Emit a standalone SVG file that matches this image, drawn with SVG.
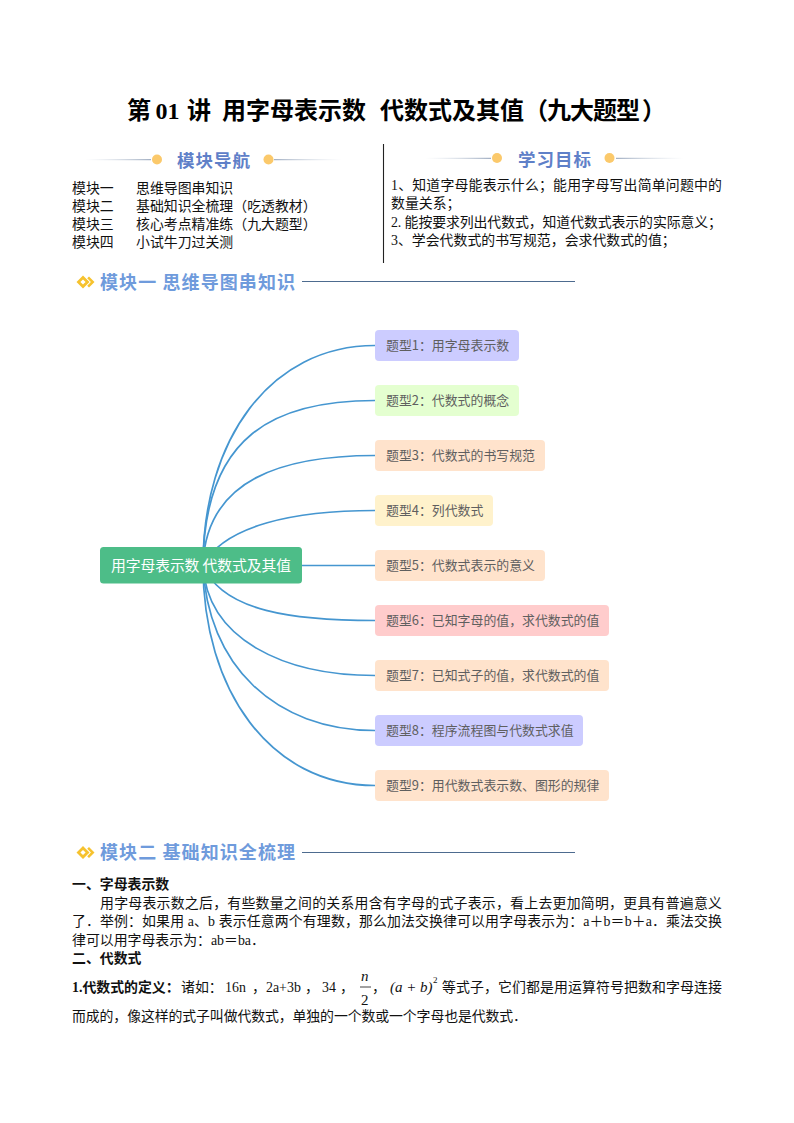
<svg xmlns="http://www.w3.org/2000/svg" width="794" height="1123" viewBox="0 0 794 1123">
<style>
text{font-family:"Liberation Serif","Noto Sans CJK SC",serif;fill:#111}
.title{font-size:24px;font-weight:700;fill:#000}
.h{font-family:"Noto Sans CJK SC",sans-serif;font-size:17.5px;font-weight:700;fill:#5f80c8}
.sec{font-family:"Noto Sans CJK SC",sans-serif;font-size:18px;font-weight:700;fill:#6f9bdc}
.b{font-size:13.9px}
.bb{font-size:13.9px;font-weight:700}
.lab{font-family:"Noto Sans CJK SC",sans-serif;font-size:12.9px;fill:#5f5f5f}
.root{font-family:"Noto Sans CJK SC",sans-serif;font-size:14.8px;fill:#fff}
.c{fill:none;stroke:#4596d0;stroke-width:1.7}
.dot{fill:#fbc96b}
.rule{stroke:#4d6b8f;stroke-width:1.1;fill:none}
.ic{fill:#f6c22e}
.m{font-family:"Liberation Serif",serif;font-style:italic;font-size:15px}
</style>
<defs>
<linearGradient id="gl" x1="0" x2="1" y1="0" y2="0"><stop offset="0" stop-color="#c5cfdc" stop-opacity="0"/><stop offset="1" stop-color="#8d9db5"/></linearGradient>
<linearGradient id="gr" x1="0" x2="1" y1="0" y2="0"><stop offset="0" stop-color="#8d9db5"/><stop offset="1" stop-color="#c5cfdc" stop-opacity="0"/></linearGradient>
<g id="icon"><path d="M0 -6.5L6.500 0L0 6.500L-6.500 0ZM0 -2.600L-2.600 0L0 2.600L2.600 0Z" class="ic" fill-rule="evenodd"/><path d="M6 -5.500L11.500 0L6 5.500L4.200 3.700L7.900 0L4.200 -3.700Z" class="ic"/></g>
</defs>

<g id="title"><text class="title" y="118.500"><tspan x="127">第</tspan><tspan x="155.500">01</tspan><tspan x="187">讲</tspan><tspan x="222">用字母表示数</tspan><tspan x="380">代数式及其值</tspan><tspan x="524">（</tspan><tspan x="547" textLength="93">九大题型</tspan><tspan x="642">）</tspan></text></g>

<g id="nav">
<rect x="85" y="159.200" width="66" height="1" fill="url(#gl)"/><rect x="274" y="159.200" width="68" height="1" fill="url(#gr)"/>
<circle class="dot" cx="157" cy="159.500" r="5"/><circle class="dot" cx="268.500" cy="159.500" r="5"/>
<text class="h" x="177" y="167" textLength="73">模块导航</text>
<text class="b" y="193"><tspan x="72">模块一</tspan><tspan x="136">思维导图串知识</tspan></text>
<text class="b" y="211"><tspan x="72">模块二</tspan><tspan x="136">基础知识全梳理（吃透教材）</tspan></text>
<text class="b" y="229"><tspan x="72">模块三</tspan><tspan x="136">核心考点精准练（九大题型）</tspan></text>
<text class="b" y="247"><tspan x="72">模块四</tspan><tspan x="136">小试牛刀过关测</tspan></text>
</g>
<path d="M383.500 144V263" stroke="#222" stroke-width="1.1"/>
<g id="goals">
<rect x="425" y="157.800" width="66" height="1" fill="url(#gl)"/><rect x="616" y="157.800" width="68" height="1" fill="url(#gr)"/>
<circle class="dot" cx="497" cy="158" r="5"/><circle class="dot" cx="609.500" cy="158" r="5"/>
<text class="h" x="518" y="165.500" textLength="73">学习目标</text>
<text class="b" x="391" y="190" textLength="331">1、知道字母能表示什么；能用字母写出简单问题中的</text>
<text class="b" x="391" y="208">数量关系；</text>
<text class="b" x="391" y="227" textLength="331">2. 能按要求列出代数式，知道代数式表示的实际意义；</text>
<text class="b" x="391" y="245">3、学会代数式的书写规范，会求代数式的值；</text>
</g>

<g id="section1"><use href="#icon" x="83" y="282"/><text class="sec" x="100" y="288.500" textLength="195">模块一 思维导图串知识</text><path class="rule" d="M302 281.500H575"/></g>

<g id="connectors">
<path class="c" d="M203 565C203 440 270 345.500 375 345.500"/>
<path class="c" d="M203 565C204 435 275 400.500 375 400.500"/>
<path class="c" d="M203 565C206 478 285 455.500 375 455.500"/>
<path class="c" d="M203 565C225 525 295 510.500 375 510.500"/>
<path class="c" d="M302 565.500H375"/>
<path class="c" d="M203 565C222 612 295 620.500 375 620.500"/>
<path class="c" d="M203 565C207 640 285 675.500 375 675.500"/>
<path class="c" d="M203 565C207 665 275 730.500 375 730.500"/>
<path class="c" d="M203 565C203 690 270 785.500 375 785.500"/>
</g>

<g id="root"><rect x="100" y="547" width="202" height="36.500" rx="3.500" fill="#4dbd88"/><text class="root" x="111" y="570.500" textLength="180">用字母表示数 代数式及其值</text></g>

<g id="n1"><rect x="375" y="330" width="144" height="31" rx="4" fill="#ccccff"/><text class="lab" x="386" y="350">题型1：用字母表示数</text></g>
<g id="n2"><rect x="375" y="385" width="144" height="31" rx="4" fill="#e4ffd0"/><text class="lab" x="386" y="405">题型2：代数式的概念</text></g>
<g id="n3"><rect x="375" y="440" width="170" height="31" rx="4" fill="#ffe3cc"/><text class="lab" x="386" y="460">题型3：代数式的书写规范</text></g>
<g id="n4"><rect x="375" y="495" width="118" height="31" rx="4" fill="#fff2cc"/><text class="lab" x="386" y="515">题型4：列代数式</text></g>
<g id="n5"><rect x="375" y="550" width="170" height="31" rx="4" fill="#ffe3cc"/><text class="lab" x="386" y="570">题型5：代数式表示的意义</text></g>
<g id="n6"><rect x="375" y="605" width="234" height="31" rx="4" fill="#ffcccc"/><text class="lab" x="386" y="625">题型6：已知字母的值，求代数式的值</text></g>
<g id="n7"><rect x="375" y="660" width="234" height="31" rx="4" fill="#ffe3cc"/><text class="lab" x="386" y="680">题型7：已知式子的值，求代数式的值</text></g>
<g id="n8"><rect x="375" y="715" width="208" height="31" rx="4" fill="#ccccff"/><text class="lab" x="386" y="735">题型8：程序流程图与代数式求值</text></g>
<g id="n9"><rect x="375" y="770" width="234" height="31" rx="4" fill="#ffe3cc"/><text class="lab" x="386" y="790">题型9：用代数式表示数、图形的规律</text></g>

<g id="section2"><use href="#icon" x="83" y="852.500"/><text class="sec" x="100" y="859" textLength="195">模块二 基础知识全梳理</text><path class="rule" d="M302 852.500H575"/></g>

<g id="body">
<text class="bb" x="72" y="889">一、字母表示数</text>
<text class="b" x="100" y="908" textLength="622">用字母表示数之后，有些数量之间的关系用含有字母的式子表示，看上去更加简明，更具有普遍意义</text>
<text class="b" x="72" y="926" textLength="650">了．举例：如果用 a、b 表示任意两个有理数，那么加法交换律可以用字母表示为：a＋b＝b＋a．乘法交换</text>
<text class="b" x="72" y="945">律可以用字母表示为：ab＝ba．</text>
<text class="bb" x="72" y="963">二、代数式</text>
<text class="bb" x="72" y="992">1.代数式的定义：</text>
<text class="b" y="992"><tspan x="181">诸如：</tspan><tspan x="225">16n</tspan><tspan x="252">，</tspan><tspan x="266">2a+3b</tspan><tspan x="305">，</tspan><tspan x="322">34</tspan><tspan x="340">，</tspan></text>
<text class="m" x="361" y="981">n</text><path d="M360 987H371" stroke="#111" stroke-width=".8"/><text class="b" x="361" y="1005" style="font-size:15px">2</text>
<text class="b" x="372" y="992">，</text>
<text class="m" x="390" y="992">(a + b)</text><text class="m" x="433" y="983" style="font-size:9px;font-style:normal">2</text>
<text class="b" x="442" y="992" textLength="280">等式子，它们都是用运算符号把数和字母连接</text>
<text class="b" x="72" y="1021" textLength="455">而成的，像这样的式子叫做代数式，单独的一个数或一个字母也是代数式．</text>
</g>
</svg>
